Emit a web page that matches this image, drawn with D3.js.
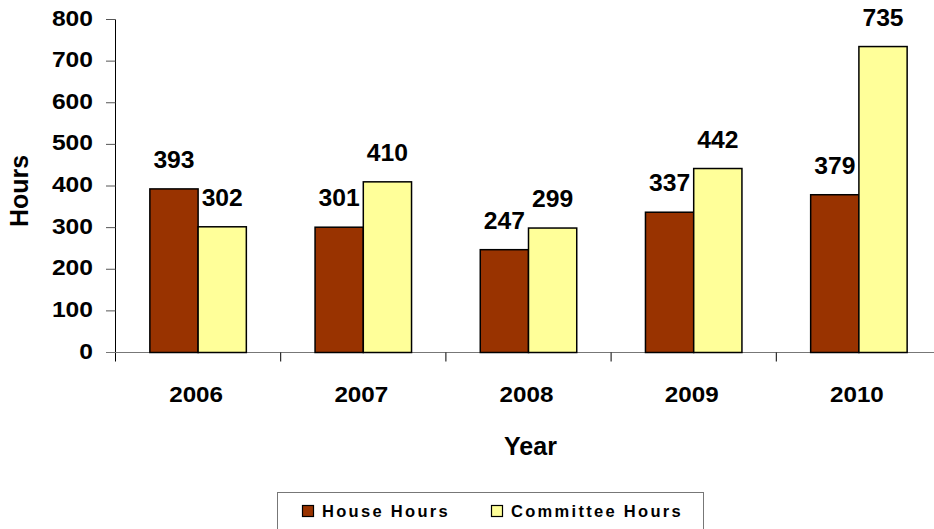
<!DOCTYPE html>
<html><head><meta charset="utf-8">
<script src="https://cdn.jsdelivr.net/npm/d3@7/dist/d3.min.js"></script>
<style>body{margin:0;background:#fff}svg{display:block}text{font-family:"Liberation Sans",Arial,sans-serif;font-weight:bold;fill:#000}</style>
</head><body><svg id="c" width="934" height="529"></svg>
<script>
const years = ["2006","2007","2008","2009","2010"];
const houseHours = [393, 301, 247, 337, 379];
const committeeHours = [302, 410, 299, 442, 735];
const seriesNames = ["House Hours","Committee Hours"];
const seriesColors = ["#993300","#FFFF99"];
const yTicks = [0,100,200,300,400,500,600,700,800];

const svg = d3.select("#c");
const x = d3.scaleBand().domain(years).range([115.5, 941.5]).padding(0);
const y = d3.scaleLinear().domain([0,800]).range([352.5, 19.5]);
const bw = x.bandwidth();
const barW = bw*0.292;
const xs = d3.scaleBand().domain(seriesNames).range([bw/2 - barW, bw/2 + barW]);

function label(g, tx, ty, txt, size, sx, anchor){
  return g.append("text").attr("transform",`translate(${tx},${ty}) scale(${sx},1)`)
    .attr("text-anchor",anchor).attr("font-size",size+"px").text(txt);
}

// y axis line and ticks
svg.append("line").attr("x1",115.5).attr("x2",115.5).attr("y1",y(800)).attr("y2",y(0)+9).attr("stroke","#000").attr("stroke-width",1);
yTicks.forEach(t=>{
  svg.append("line").attr("x1",106).attr("x2",115.5).attr("y1",y(t)).attr("y2",y(t)).attr("stroke","#555").attr("stroke-width",1);
  label(svg, 93, y(t)+6, t, 22, 1.12, "end");
});
// x axis
svg.append("line").attr("x1",106).attr("x2",934).attr("y1",y(0)).attr("y2",y(0)).attr("stroke","#777").attr("stroke-width",1.2);
years.forEach(yr=>{
  const xx = x(yr);
  if (xx>116) svg.append("line").attr("x1",xx).attr("x2",xx).attr("y1",y(0)).attr("y2",y(0)+9).attr("stroke","#000");
  label(svg, xx+bw/2 - 2, 401.5, yr, 22, 1.1, "middle");
});

const data = years.map((yr,i)=>({yr, vals:[houseHours[i], committeeHours[i]]}));
data.forEach(d=>{
  d.vals.forEach((v,j)=>{
    const bx = x(d.yr)+xs(seriesNames[j]);
    svg.append("rect").attr("x",bx).attr("y",y(v)).attr("width",xs.bandwidth()).attr("height",y(0)-y(v))
      .attr("fill",seriesColors[j]).attr("stroke","#000").attr("stroke-width",1.5);
    label(svg, bx+xs.bandwidth()/2, y(v)-21, v, 23.5, 1.05, "middle");
  });
});

// axis titles
svg.append("text").attr("transform","translate(28,191) rotate(-90)").attr("text-anchor","middle").attr("font-size","25px").text("Hours");
svg.append("text").attr("x",530.5).attr("y",455).attr("text-anchor","middle").attr("font-size","25px").text("Year");

// legend
const lg = svg.append("g");
lg.append("rect").attr("x",277.5).attr("y",492.5).attr("width",426).attr("height",40).attr("fill","#fff").attr("stroke","#777").attr("stroke-width",1);
const lx = [302, 491];
seriesNames.forEach((n,j)=>{
  lg.append("rect").attr("x",lx[j]+0.5).attr("y",505.5).attr("width",11).attr("height",11).attr("fill",seriesColors[j]).attr("stroke","#000").attr("stroke-width",1.2);
  lg.append("text").attr("x",lx[j]+20).attr("y",516.5).attr("font-size","16.5px").attr("letter-spacing","2.3px").text(n);
});
</script></body></html>
